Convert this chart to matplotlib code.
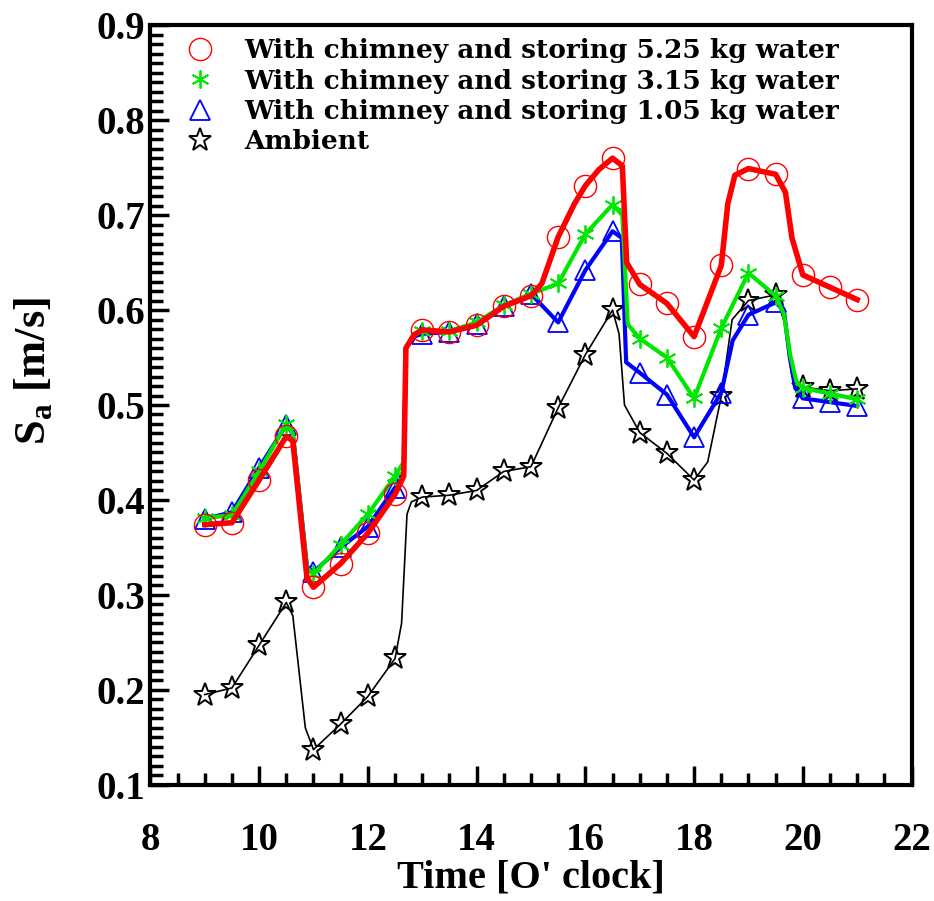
import numpy as np
import matplotlib.pyplot as plt
from matplotlib.ticker import MultipleLocator

# half-hourly readings, 9:00 .. 21:00
time = [9, 9.5, 10, 10.5, 11, 11.5, 12, 12.5, 13, 13.5, 14, 14.5, 15,
        15.5, 16, 16.5, 17, 17.5, 18, 18.5, 19, 19.5, 20, 20.5, 21]

sa_525 = [0.374, 0.376, 0.421, 0.467, 0.308, 0.333, 0.365, 0.406, 0.579,
          0.577, 0.584, 0.604, 0.615, 0.677, 0.731, 0.760, 0.627, 0.607,
          0.572, 0.647, 0.749, 0.743, 0.637, 0.624, 0.611]
sa_315 = [0.381, 0.384, 0.430, 0.480, 0.322, 0.353, 0.385, 0.425, 0.578,
          0.578, 0.587, 0.605, 0.617, 0.628, 0.680, 0.711, 0.570, 0.550,
          0.507, 0.581, 0.639, 0.615, 0.518, 0.512, 0.506]
sa_105 = [0.380, 0.387, 0.434, 0.479, 0.324, 0.350, 0.372, 0.413, 0.575,
          0.577, 0.585, 0.604, 0.617, 0.587, 0.642, 0.683, 0.534, 0.511,
          0.466, 0.513, 0.595, 0.608, 0.507, 0.503, 0.499]
sa_amb = [0.195, 0.202, 0.247, 0.292, 0.137, 0.164, 0.193, 0.233, 0.403,
          0.405, 0.410, 0.430, 0.435, 0.497, 0.553, 0.600, 0.471, 0.449,
          0.421, 0.509, 0.610, 0.616, 0.519, 0.515, 0.517]

# extra points on the curves between the readings (steep changes)
knots_525_t = [10.62, 10.88, 12.66, 12.70, 12.85, 15.2, 15.8, 16.25, 16.68, 16.76, 18.62, 18.75, 19.68, 19.80]
knots_525_v = [0.462, 0.318, 0.425, 0.560, 0.574, 0.628, 0.712, 0.748, 0.752, 0.650, 0.712, 0.742, 0.724, 0.676]
knots_315_t = [10.62, 10.88, 12.66, 12.70, 12.85, 16.68, 16.78, 19.65, 19.77, 19.88]
knots_315_v = [0.470, 0.328, 0.440, 0.560, 0.574, 0.700, 0.585, 0.596, 0.552, 0.525]
knots_105_t = [10.62, 10.88, 12.66, 12.70, 12.85, 16.67, 16.75, 18.71, 19.65, 19.76, 19.86]
knots_105_v = [0.470, 0.330, 0.430, 0.560, 0.572, 0.676, 0.545, 0.568, 0.600, 0.550, 0.518]
knots_amb_t = [10.62, 10.85, 12.62, 12.72, 12.80, 16.62, 16.72, 18.25, 18.70, 19.70, 19.80]
knots_amb_v = [0.278, 0.160, 0.270, 0.385, 0.398, 0.575, 0.500, 0.440, 0.590, 0.580, 0.530]

labels = ['With chimney and storing 5.25 kg water',
          'With chimney and storing 3.15 kg water',
          'With chimney and storing 1.05 kg water',
          'Ambient']


def curve(t, v, kt, kv):
    tt = np.concatenate([t, kt])
    vv = np.concatenate([v, kv])
    idx = np.argsort(tt)
    return tt[idx], vv[idx]


plt.rcParams['font.family'] = ['Liberation Serif', 'DejaVu Serif']
plt.rcParams['font.weight'] = 'bold'
plt.rcParams['axes.labelweight'] = 'bold'
plt.rcParams['mathtext.fontset'] = 'custom'
plt.rcParams['mathtext.rm'] = 'Liberation Serif:bold'
plt.rcParams['mathtext.bf'] = 'Liberation Serif:bold'

fig = plt.figure(figsize=(9.34, 9.01), dpi=100)
ax = fig.add_axes([0.161, 0.129, 0.815, 0.843])

series = [
    (sa_525, knots_525_t, knots_525_v, 'red', 'o', 4.0, 16, 1.0),
    (sa_315, knots_315_t, knots_315_v, '#00e600', (6, 2, 0), 3.0, 13, 1.3),
    (sa_105, knots_105_t, knots_105_v, 'blue', '^', 3.0, 14, 1.3),
    (sa_amb, knots_amb_t, knots_amb_v, 'black', '*', 1.2, 17, 1.4),
]
order = [3, 2, 1, 0]
handles = [None] * 4
for i in order:
    vals, kt, kv, col, mk, lw, ms, mew = series[i]
    ct, cv = curve(time, vals, kt, kv)
    ax.plot(ct, cv, color=col, lw=lw, zorder=2 + (3 - i))
    ax.plot(time, vals, ls='none', marker=mk, ms=ms, mfc='none',
            mec=col, mew=mew, zorder=2 + (3 - i))
    handles[i] = plt.Line2D([], [], ls='none', marker=mk, ms=ms, mfc='none',
                            mec=col, mew=mew)

ax.set_xlim(8, 22)
ax.set_ylim(0.1, 0.9)
ax.xaxis.set_major_locator(MultipleLocator(2))
ax.xaxis.set_minor_locator(MultipleLocator(0.5))
ax.yaxis.set_major_locator(MultipleLocator(0.1))
ax.yaxis.set_minor_locator(MultipleLocator(0.01))
ax.yaxis.set_major_formatter(plt.FuncFormatter(lambda v, p: f'{v:.1f}'))
ax.tick_params(which='both', direction='in', width=2.5, labelsize=28)
ax.tick_params(which='major', length=14)
ax.tick_params(which='minor', length=9)
ax.tick_params(axis='x', pad=27)
ax.tick_params(axis='y', pad=4)
for s in ax.spines.values():
    s.set_linewidth(3)

ax.set_xlabel("Time [O' clock]", fontsize=29, fontweight='bold', labelpad=0)
ax.set_ylabel(r'S$_\mathrm{a}$ [m/s]', fontsize=32, fontweight='bold')
ax.yaxis.set_label_coords(-0.125, 0.545)

ax.legend(handles, labels, loc='upper left', frameon=False,
          prop={'family': 'DejaVu Serif', 'size': 19, 'weight': 'bold'},
          handlelength=1.0, handletextpad=1.2, labelspacing=0.2,
          borderaxespad=0.1, bbox_to_anchor=(0.03, 1.0))

fig.savefig('out.png', dpi=100)
